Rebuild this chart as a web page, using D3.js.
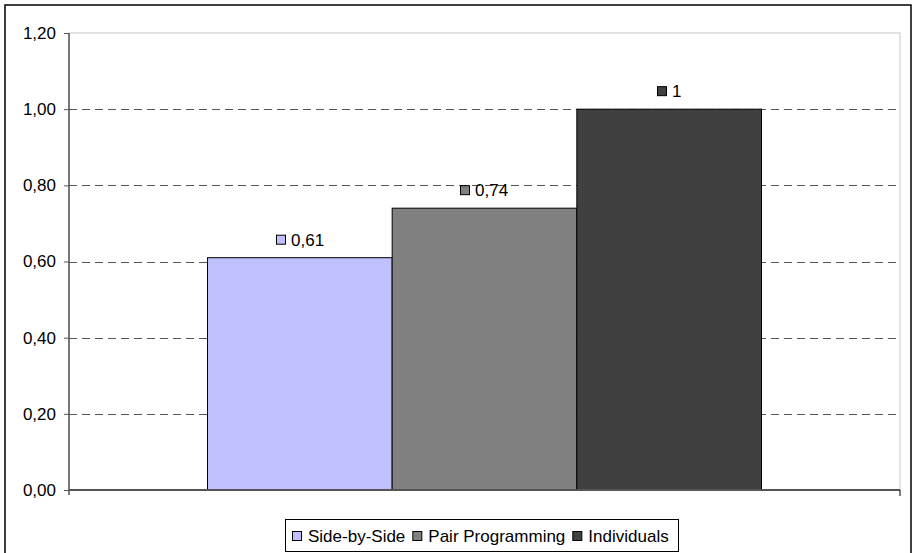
<!DOCTYPE html>
<html>
<head>
<meta charset="utf-8">
<script src="https://cdn.jsdelivr.net/npm/d3@7"></script>
<style>
  html, body { margin: 0; padding: 0; background: #fff; }
  svg { display: block; font-family: "Liberation Sans", Arial, sans-serif; }
</style>
</head>
<body>
<svg id="chart" width="912" height="553"></svg>
<script>
// Series shown as grouped bars in a single category
const seriesNames = ["Side-by-Side", "Pair Programming", "Individuals"];
const seriesValues = [0.61, 0.74, 1];
const seriesColors = ["#c0c0ff", "#808080", "#404040"];
const yTicks = [0, 0.2, 0.4, 0.6, 0.8, 1.0, 1.2];
const categories = [""];

const svg = d3.select("#chart");
const FS = 17;
const fmt = v => d3.format(".2f")(v).replace(".", ",");
const labelFmt = v => String(v).replace(".", ",");

// Outer frame
svg.append("rect").attr("x", 5).attr("y", 5).attr("width", 906).attr("height", 560)
  .attr("fill", "#fff").attr("stroke", "#000").attr("stroke-width", 1.5);

const plot = { left: 69, top: 33, right: 900, bottom: 490 };

const y = d3.scaleLinear().domain([0, 1.2]).range([plot.bottom, plot.top]);
const x0 = d3.scaleBand().domain(categories).range([plot.left, plot.right]).paddingInner(0).paddingOuter(0.25);
const x1 = d3.scaleBand().domain(seriesNames).range([0, x0.bandwidth()]).padding(0);

// Plot area border (light)
svg.append("rect").attr("x", plot.left).attr("y", plot.top)
  .attr("width", plot.right - plot.left).attr("height", plot.bottom - plot.top)
  .attr("fill", "none").attr("stroke", "#c8c8c8").attr("stroke-width", 1);

// Dashed gridlines
svg.append("g").selectAll("line").data(yTicks.filter(t => t > 0 && t < 1.2)).join("line")
  .attr("x1", plot.left).attr("x2", plot.right)
  .attr("y1", d => Math.round(y(d)) + 0.5).attr("y2", d => Math.round(y(d)) + 0.5)
  .attr("stroke", "#555").attr("stroke-width", 1).attr("stroke-dasharray", "8,5");

// Bars
const g = svg.append("g");
g.selectAll("rect").data(seriesNames.map((n, i) => ({ n, v: seriesValues[i], c: seriesColors[i] }))).join("rect")
  .attr("x", d => x0("") + x1(d.n))
  .attr("y", d => y(d.v))
  .attr("width", x1.bandwidth())
  .attr("height", d => y(0) - y(d.v))
  .attr("fill", d => d.c)
  .attr("stroke", "#000").attr("stroke-width", 1);

// Y axis
const yAxis = d3.axisLeft(y).tickValues(yTicks).tickFormat(fmt).tickSize(5).tickPadding(8);
const ya = svg.append("g").attr("transform", `translate(${plot.left},0)`).call(yAxis);
ya.attr("font-size", FS).attr("font-family", "Liberation Sans, Arial, sans-serif");
ya.select(".domain").attr("stroke", "#555").attr("stroke-width", 1.5).attr("d", `M-0,${plot.top}V${plot.bottom + 5}`);
ya.selectAll(".tick line").attr("stroke", "#555");
ya.selectAll(".tick text").attr("fill", "#000");

// X axis line
svg.append("line").attr("x1", plot.left).attr("x2", plot.right)
  .attr("y1", plot.bottom).attr("y2", plot.bottom)
  .attr("stroke", "#555").attr("stroke-width", 2);
svg.append("line").attr("x1", plot.right).attr("x2", plot.right)
  .attr("y1", plot.bottom).attr("y2", plot.bottom + 6)
  .attr("stroke", "#000").attr("stroke-width", 1);

// Value labels with legend key
seriesNames.forEach((n, i) => {
  const cx = x0("") + x1(n) + x1.bandwidth() / 2;
  const by = y(seriesValues[i]) - 12;
  const lg = svg.append("g");
  const t = lg.append("text").attr("x", 15).attr("y", by).attr("font-size", FS).text(labelFmt(seriesValues[i]));
  const tw = t.node().getComputedTextLength();
  lg.append("rect").attr("x", 0.5).attr("y", by - 10.5).attr("width", 9).attr("height", 9)
    .attr("fill", seriesColors[i]).attr("stroke", "#000").attr("stroke-width", 1);
  const total = 15 + tw;
  lg.attr("transform", `translate(${Math.round(cx - total / 2)},0)`);
});

// Legend
const leg = svg.append("g");
const legBox = leg.append("rect").attr("x", 285.5).attr("y", 519.5).attr("height", 32)
  .attr("fill", "#fff").attr("stroke", "#000").attr("stroke-width", 1);
let lx = 292;
let lastEnd = lx;
seriesNames.forEach((n, i) => {
  leg.append("rect").attr("x", lx + 0.5).attr("y", 531.5).attr("width", 9).attr("height", 9)
    .attr("fill", seriesColors[i]).attr("stroke", "#000");
  const t = leg.append("text").attr("x", lx + 16).attr("y", 541.5).attr("font-size", FS).text(n);
  lastEnd = lx + 16 + t.node().getComputedTextLength();
  lx = lastEnd + 7;
});
legBox.attr("width", Math.round(lastEnd + 10 - 285.5));
</script>
</body>
</html>
